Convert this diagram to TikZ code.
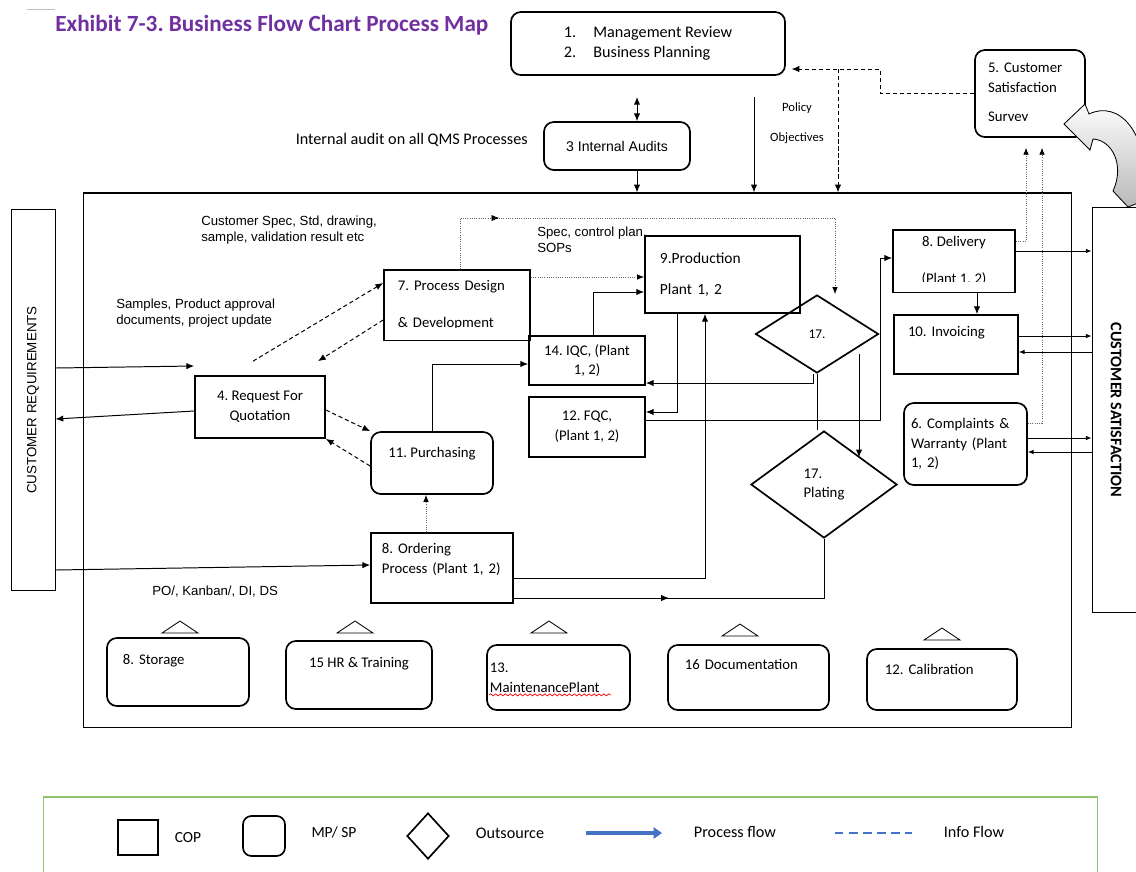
\documentclass[tikz,border=0pt]{standalone}
\usepackage{fontspec}
\setmainfont{Carlito}
\newfontfamily\arialfont{Liberation Sans}
\usepackage{graphicx}
\usepackage{tikz}
\usetikzlibrary{calc,positioning,arrows.meta,shapes.geometric,
                decorations.pathmorphing,decorations.markings}
\definecolor{exhpurple}{RGB}{112,48,160}
\definecolor{legendgreen}{RGB}{146,196,110}
\definecolor{flowblue}{RGB}{68,114,196}
\frenchspacing

\tikzset{
  cop/.style={draw,line width=1.2pt,inner sep=0pt,align=center,
              font=\fontsize{10.5}{14}\selectfont},
  mpsp/.style={cop,rounded corners=7pt},
  outsrc/.style={cop,diamond,aspect=1.4},
  flow/.style={line width=0.7pt,-{Latex[length=5.5pt,width=4.5pt]}},
  sflow/.style={line width=0.6pt,-{Latex[length=4pt,width=3.2pt]}},
  info/.style={flow,densely dashed},
  infodot/.style={line width=0.6pt,densely dotted,black!60,
                  -{Latex[length=5pt,width=4pt,color=black]}},
  midarrow/.style={postaction={decorate,decoration={markings,
      mark=at position #1 with {\arrow[black]{Latex[length=5.5pt,width=4.5pt]}}}}},
  lbl/.style={font=\arialfont\fontsize{9.4}{11.5}\selectfont,align=left,inner sep=0pt},
  hidetext/.style={fill=white,draw=none},
}

\begin{document}
\begin{tikzpicture}[x=0.025cm,y=-0.025cm]
\useasboundingbox (0,0) rectangle (1136,871);

% title
\draw[gray!50,line width=0.6pt] (27,9) -- (55,9);
\node[anchor=west,inner sep=0pt,text=exhpurple,
      font=\bfseries\fontsize{16.5}{18}\selectfont] (title) at (55,25)
  {Exhibit 7-3. Business Flow Chart Process Map};

% main frame and customer sides
\node[draw,line width=0.8pt,minimum width=24.675cm,minimum height=13.35cm] (frame) at (577.5,460) {};
\node[draw,line width=0.7pt,minimum width=1.1cm,minimum height=9.5cm,
      font=\arialfont\fontsize{9.5}{11}\selectfont] (creq) at (33,400)
  {\rotatebox{90}{CUSTOMER REQUIREMENTS}};
\node[draw,line width=0.7pt,minimum width=1.2cm,minimum height=10.1cm,
      font=\bfseries\fontsize{11.5}{13}\selectfont] (csat) at (1116,410)
  {\rotatebox{-90}{CUSTOMER SATISFACTION}};

% top level
\node[mpsp,minimum width=6.85cm,minimum height=1.575cm,align=left,
      font=\fontsize{11.5}{14.2}\selectfont] (mgmt) at (648,43.5)
  {\makebox[21pt][l]{1.}Management Review\\\makebox[21pt][l]{2.}Business Planning};
\node[mpsp,minimum width=3.65cm,minimum height=1.2cm,
      font=\arialfont\fontsize{10}{12}\selectfont] (audit) at (617,146) {3 Internal Audits};
\node[anchor=east,inner sep=0pt,font=\fontsize{11.5}{14}\selectfont] (auditlbl) at (528,140)
  {Internal audit on all QMS Processes};
\node[mpsp,minimum width=2.75cm,minimum height=2.175cm,text width=2.1cm,align=left] (css) at (1030,93.5)
  {5. Customer\\Satisfaction\\[6.5pt]Survey};
\fill[hidetext] ([shift={(3,-17)}]css.south west) rectangle ([shift={(75,-9)}]css.south west);
\node[font=\fontsize{9}{11}\selectfont] (pollbl) at (797,108) {Policy};
\node[font=\fontsize{9}{11}\selectfont] (objlbl) at (797,138) {Objectives};

% process boxes
\node[cop,minimum width=3.65cm,minimum height=1.75cm,text width=2.95cm,align=left] (pd) at (457,305)
  {7. Process Design\\[12pt]\& Development};
\fill[hidetext] ([shift={(2,-12.5)}]pd.south west) rectangle ([shift={(-2,-1.3)}]pd.south east);
\node[cop,minimum width=3.875cm,minimum height=1.925cm,text width=3.125cm,align=left,
      font=\fontsize{11}{14}\selectfont] (prod) at (722.5,274.5)
  {9.Production\\[8pt]Plant 1, 2};
\node[cop,minimum width=2.9cm,minimum height=1.225cm] (iqc) at (587,360.5) {14. IQC, (Plant\\1, 2)};
\node[cop,minimum width=2.9cm,minimum height=1.5cm] (fqc) at (587,427) {12. FQC,\\(Plant 1, 2)};
\node[outsrc,minimum width=3.075cm,minimum height=1.95cm,font=\fontsize{9.5}{12}\selectfont] (rcv) at (817,334) {17.};
\node[outsrc,minimum width=3.65cm,minimum height=2.675cm,align=left] (plt) at (824,484.5) {17.\\Plating};
\node[cop,minimum width=3.05cm,minimum height=1.55cm] (dlv) at (954,261) {8. Delivery\\[12pt](Plant 1, 2)};
\fill[hidetext] ([shift={(2,-11)}]dlv.south west) rectangle ([shift={(-2,-1.3)}]dlv.south east);
\node[cop,minimum width=3.1cm,minimum height=1.475cm,text width=2.4cm,align=left,
      text height=8pt,text depth=18.7pt] (inv) at (956,344.5) {10. Invoicing};
\node[mpsp,minimum width=3.075cm,minimum height=2.05cm,text width=2.725cm,align=left] (cmp) at (965.5,444)
  {6. Complaints \&\\Warranty (Plant\\1, 2)};
\node[cop,minimum width=3.25cm,minimum height=1.55cm] (rfq) at (260,407) {4. Request For\\Quotation};
\node[mpsp,minimum width=3.05cm,minimum height=1.55cm,text height=8pt,text depth=16.5pt] (pur) at (432,463)
  {11. Purchasing};
\node[cop,minimum width=3.55cm,minimum height=1.75cm,text width=3cm,align=left] (ord) at (442,568)
  {8. Ordering\\Process (Plant 1, 2)\\~};

% support processes
\node[mpsp,minimum width=3.55cm,minimum height=1.7cm,text width=2.75cm,align=left,
      text height=8pt,text depth=19.4pt] (sto) at (178,672) {8. Storage};
\node[mpsp,minimum width=3.65cm,minimum height=1.7cm,
      text height=8pt,text depth=19.4pt] (hr) at (359,675) {15 HR \& Training};
\node[mpsp,minimum width=3.575cm,minimum height=1.625cm,text width=3.425cm,align=left] (mnt) at (558.5,677.5)
  {13.\\MaintenancePlant};
\draw[red,line width=0.5pt,decorate,decoration={snake,amplitude=0.7pt,segment length=3.5pt}]
  ([shift={(3,-16)}]mnt.south west) -- ([shift={(125,-16)}]mnt.south west);
\node[mpsp,minimum width=4.025cm,minimum height=1.625cm,text width=3.175cm,align=left,
      text height=8pt,text depth=18.7pt] (doc) at (748.5,677.5) {16 Documentation};
\node[mpsp,minimum width=3.75cm,minimum height=1.525cm,text width=2.85cm,align=left,
      text height=8pt,text depth=15.8pt] (cal) at (942,679.5) {12. Calibration};
\foreach \tx/\ty in {180/627,355/627,549/627,740/630,942/634}
  \draw[line width=0.6pt] (\tx-18,\ty+6) -- (\tx,\ty-6) -- (\tx+18,\ty+6) -- cycle;

% labels
\node[lbl,anchor=west] (speclbl) at (201,230) {Customer Spec, Std, drawing,\\sample, validation result etc};
\node[lbl,anchor=west] (samplbl) at (116,313) {Samples, Product approval\\documents, project update};
\node[lbl,anchor=west] (soplbl) at (537,240) {Spec, control plan,\\SOPs};
\node[lbl,anchor=west] (polbl) at (152,592) {PO/, Kanban/, DI, DS};

% top connectors
\draw[{Latex[length=5.5pt,width=4.5pt]}-{Latex[length=5.5pt,width=4.5pt]},line width=0.7pt,shorten <=15pt]
  (637,0 |- mgmt.south) -- (637,0 |- audit.north);
\draw[flow] (637,0 |- audit.south) -- (637,0 |- frame.north);
\coordinate (polstart) at (754,97);
\draw[flow] (polstart) -- (polstart |- frame.north);
\draw[info,shorten >=4pt] (css.west) -| (880,69) -- (mgmt.east |- 0,69);
\coordinate (objsplit) at (838,69);
\draw[info] (objsplit) -- (objsplit |- frame.north);

% customer requirement side
\draw[flow] (creq.east |- 0,368) -- (rfq.west |- 0,366);
\draw[flow] (rfq.west |- 0,411) -- (creq.east |- 0,419);
\draw[flow] (creq.east |- 0,570) -- (ord.west |- 0,565);

% inner flows
\draw[info] ([shift={(-7,-14)}]rfq.north) -- (pd.west |- 0,283);
\draw[info] (pd.west |- 0,320) -- ([shift={(58,-14)}]rfq.north);
\draw[info] (rfq.east |- 0,410) -- (pur.north west);
\draw[info] (pur.west |- 0,466) -- (rfq.south east);
\draw[infodot] (426,0 |- ord.north) -- (426,0 |- pur.south);
\draw[flow] (pur.north) |- (iqc.west |- 0,364);
\draw[flow] (593,0 |- iqc.north) |- (prod.west |- 0,292);
\draw[infodot] (pd.east |- 0,277) -- (prod.west |- 0,277);
\draw[infodot,midarrow=0.18] (460,0 |- pd.north) |- (835,218) -- (835,0 |- rcv.north);
\draw[flow] (677,0 |- prod.south) |- (fqc.east |- 0,412);
\draw[flow] (rcv.south -| 813,0) |- (iqc.east |- 0,383);
\draw[line width=0.7pt] (rcv.south) -- (rcv.south |- plt.north);
\draw[flow] (859,0 |- rcv.south east) -- (859,0 |- plt.north east);
\draw[flow] (fqc.east |- 0,420) -| (880,258) -- (dlv.west |- 0,258);
\draw[flow] (ord.east |- 0,578) -| (705,0 |- prod.south);
\draw[line width=0.7pt,midarrow=0.42] (ord.east |- 0,598) -| (plt.south);
\draw[flow] (977,0 |- dlv.south) -- (977,0 |- inv.north);

% customer satisfaction side
\draw[sflow] (dlv.east |- 0,251) -- (csat.west |- 0,251);
\draw[sflow] (inv.east |- 0,336) -- (csat.west |- 0,336);
\draw[sflow] (csat.west |- 0,352) -- (inv.east |- 0,352);
\draw[sflow] (cmp.east |- 0,438) -- (csat.west |- 0,438);
\draw[sflow] (csat.west |- 0,452) -- (cmp.east |- 0,452);
\draw[infodot,shorten >=7pt] (dlv.east |- 0,241) -| (1026,0 |- css.south);
\draw[infodot,shorten >=7pt] (cmp.east |- 0,423) -| (1042,0 |- css.south);

% feedback block arrow
\draw[line width=0.6pt,top color=white,bottom color=gray!55]
  (1064,124) -- (1085,104) -- (1089,114)
  .. controls (1118,100) and (1150,130) .. (1146,200)
  -- (1128,207) -- (1113,191)
  .. controls (1125,165) and (1112,140) .. (1093,139)
  -- (1090,150) -- cycle;

% legend
\node[draw=legendgreen,line width=0.8pt,minimum width=26.325cm,minimum height=2.2cm] (legend) at (570.5,841) {};
\node[cop,minimum width=1cm,minimum height=0.875cm] (lcop) at (138,837.5) {};
\node[font=\fontsize{11}{13}\selectfont] (lcopt) at (188,838) {COP};
\node[mpsp,rounded corners=6pt,minimum width=1.05cm,minimum height=1cm] (lmp) at (264,836) {};
\node[font=\fontsize{11}{13}\selectfont] (lmpt) at (334,832) {MP/ SP};
\node[outsrc,minimum width=1.05cm,minimum height=1.15cm] (lout) at (428,836) {};
\node[font=\fontsize{11.5}{13}\selectfont] (loutt) at (510,833) {Outsource};
\coordinate (lpfa) at (586,833);
\coordinate (lpfb) at (662,833);
\draw[flowblue,line width=2.2pt,-{Triangle[length=6pt,width=8pt]}] (lpfa) -- (lpfb);
\node[font=\fontsize{11.5}{13}\selectfont] (lpft) at (735,832) {Process flow};
\coordinate (lifa) at (835,833);
\coordinate (lifb) at (912,833);
\draw[flowblue,line width=1.5pt,dash pattern=on 6pt off 4pt] (lifa) -- (lifb);
\node[font=\fontsize{11.5}{13}\selectfont] (lift) at (974,832) {Info Flow};
\end{tikzpicture}
\end{document}
